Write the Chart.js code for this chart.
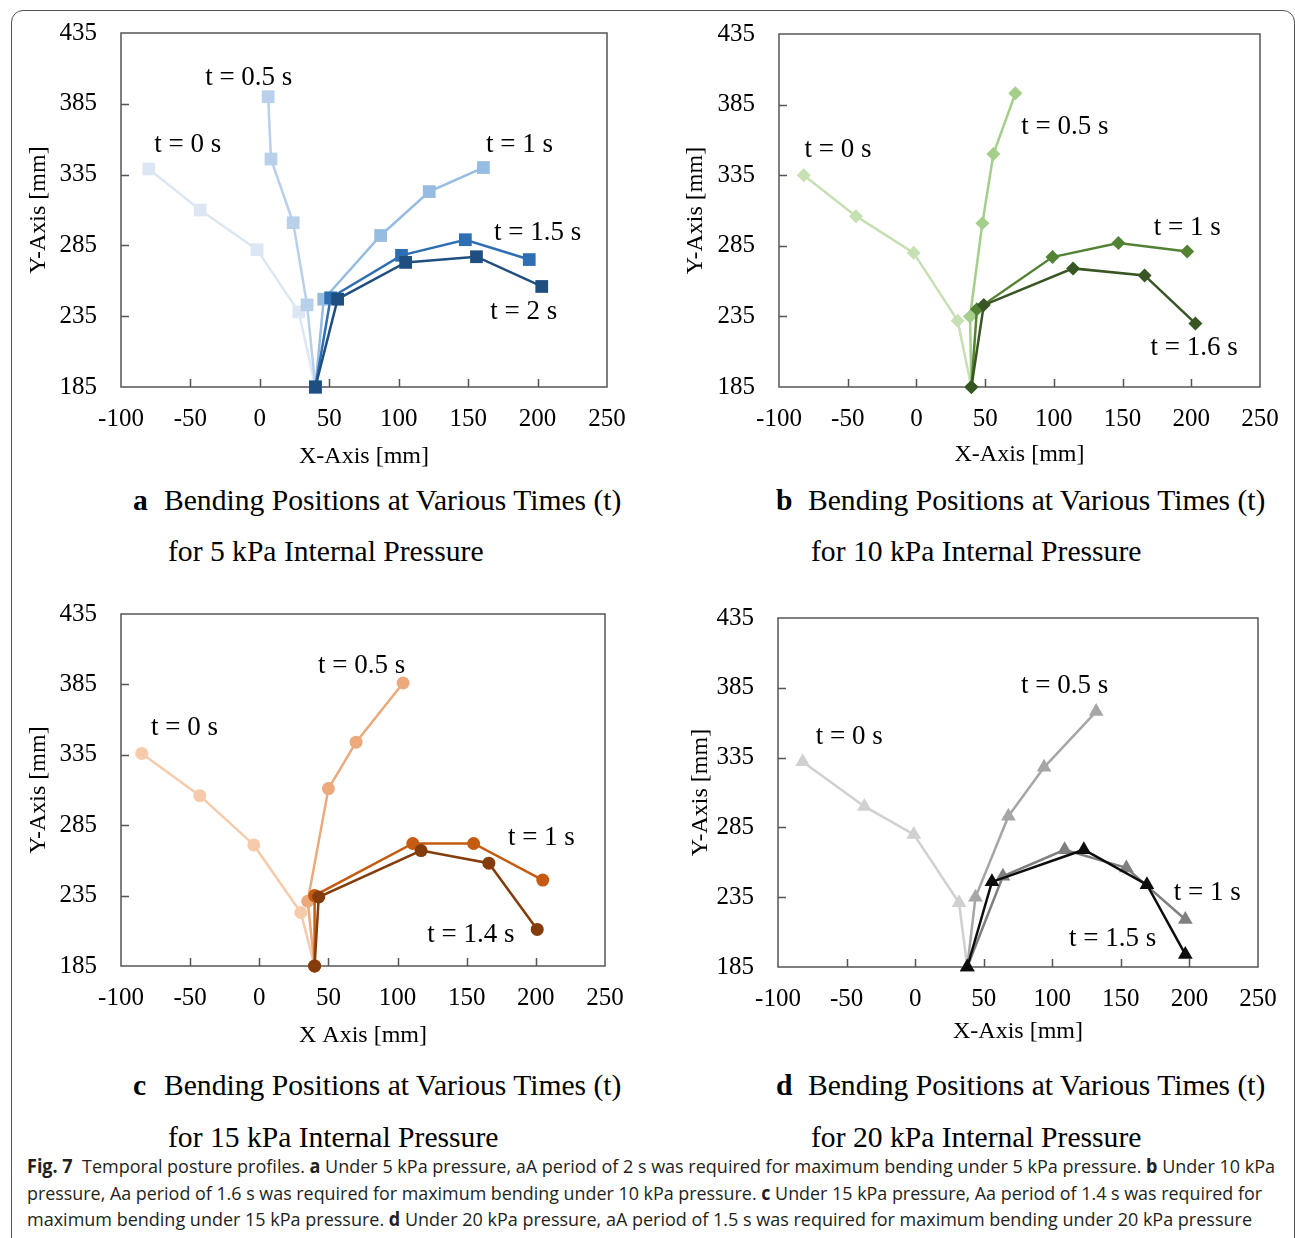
<!DOCTYPE html>
<html>
<head>
<meta charset="utf-8">
<script src="https://cdn.jsdelivr.net/npm/chart.js@4.4.1/dist/chart.umd.min.js"></script>
<style>
    html, body { margin: 0; padding: 0; background: #fff; }
    body { width: 1295px; height: 1238px; position: relative; overflow: hidden; font-family: "Liberation Serif", "Times New Roman", serif; color: #000; }
    .frame { position: absolute; left: 11px; top: 10px; width: 1284px; height: 1250px; border: 1.5px solid #555; border-radius: 12px; box-sizing: border-box; }
    .panel { position: absolute; width: 640px; height: 480px; }
    .sub { position: absolute; font-size: 29.6px; line-height: 34px; white-space: nowrap; }
    .sub.tag { font-weight: bold; }
    .cap { position: absolute; left: 27px; font-family: "Open Sans", sans-serif; font-size: 19px; line-height: 26px; color: #231f20; white-space: nowrap; transform-origin: 0 50%; }
</style>
</head>
<body>
<div class="frame"></div>

<div class="panel" style="left:0;top:0"><canvas id="chartA" width="640" height="480"></canvas></div>
<div class="panel" style="left:655px;top:0"><canvas id="chartB" width="640" height="480"></canvas></div>
<div class="panel" style="left:0;top:580px"><canvas id="chartC" width="640" height="480"></canvas></div>
<div class="panel" style="left:655px;top:580px"><canvas id="chartD" width="640" height="480"></canvas></div>

<div class="sub tag" style="left:133px;top:483px">a</div>
<div class="sub" style="left:164px;top:483px">Bending Positions at Various Times (t)</div>
<div class="sub" style="left:168px;top:534px">for 5 kPa Internal Pressure</div>

<div class="sub tag" style="left:776px;top:483px">b</div>
<div class="sub" style="left:808px;top:483px">Bending Positions at Various Times (t)</div>
<div class="sub" style="left:811px;top:534px">for 10 kPa Internal Pressure</div>

<div class="sub tag" style="left:133px;top:1068px">c</div>
<div class="sub" style="left:164px;top:1068px">Bending Positions at Various Times (t)</div>
<div class="sub" style="left:168px;top:1120px">for 15 kPa Internal Pressure</div>

<div class="sub tag" style="left:776px;top:1068px">d</div>
<div class="sub" style="left:808px;top:1068px">Bending Positions at Various Times (t)</div>
<div class="sub" style="left:811px;top:1120px">for 20 kPa Internal Pressure</div>

<div class="cap" data-w="1248" style="top:1153px"><b>Fig. 7</b>&nbsp; Temporal posture profiles. <b>a</b> Under 5 kPa pressure, aA period of 2 s was required for maximum bending under 5 kPa pressure. <b>b</b> Under 10 kPa</div>
<div class="cap" data-w="1235" style="top:1180px">pressure, Aa period of 1.6 s was required for maximum bending under 10 kPa pressure. <b>c</b> Under 15 kPa pressure, Aa period of 1.4 s was required for</div>
<div class="cap" data-w="1225" style="top:1206px">maximum bending under 15 kPa pressure. <b>d</b> Under 20 kPa pressure, aA period of 1.5 s was required for maximum bending under 20 kPa pressure</div>

<script>
    // ---- data (mm), every line starts at the base point ----

    // a: 5 kPa
    var aNames = ['t = 0 s', 't = 0.5 s', 't = 1 s', 't = 1.5 s', 't = 2 s'];
    var aX = [
        [40, 28, -2, -43, -80],
        [40, 34, 24, 8, 6],
        [40, 46, 87, 122, 161],
        [40, 51, 102, 148, 194],
        [40, 56, 105, 156, 203]
    ];
    var aY = [
        [185, 238, 282, 310, 339],
        [185, 243, 301, 346, 390],
        [185, 247, 292, 323, 340],
        [185, 248, 278, 289, 275],
        [185, 247, 273, 277, 256]
    ];
    var aTagX = [-52, -8, 187, 200, 190];
    var aTagY = [356, 403, 356, 294, 238];

    // b: 10 kPa
    var bNames = ['t = 0 s', 't = 0.5 s', 't = 1 s', 't = 1.6 s'];
    var bX = [
        [40, 30, -2, -44, -82],
        [40, 39, 48, 56, 72],
        [40, 44, 99, 147, 197],
        [40, 49, 114, 166, 203]
    ];
    var bY = [
        [185, 232, 280, 306, 335],
        [185, 235, 301, 350, 393],
        [185, 240, 277, 287, 281],
        [185, 243, 269, 264, 230]
    ];
    var bTagX = [-57, 108, 197, 202];
    var bTagY = [353, 369, 298, 213];

    // c: 15 kPa
    var cNames = ['t = 0 s', 't = 0.5 s', 't = 1 s', 't = 1.4 s'];
    var cX = [
        [40, 30, -4, -43, -85],
        [40, 35, 50, 70, 104],
        [40, 40, 111, 155, 205],
        [40, 43, 117, 166, 201]
    ];
    var cY = [
        [185, 223, 271, 306, 336],
        [185, 231, 311, 344, 386],
        [185, 235, 272, 272, 246],
        [185, 234, 267, 258, 211]
    ];
    var cTagX = [-54, 74, 204, 153];
    var cTagY = [354, 398, 276, 207];

    // d: 20 kPa
    var dNames = ['t = 0 s', 't = 0.5 s', 't = 1 s', 't = 1.5 s'];
    var dX = [
        [38, 32, -1, -37, -82],
        [38, 44, 68, 94, 132],
        [38, 64, 109, 154, 197],
        [38, 56, 123, 169, 197]
    ];
    var dY = [
        [185, 231, 280, 300, 332],
        [185, 235, 293, 328, 368],
        [185, 250, 269, 256, 219],
        [185, 246, 269, 244, 194]
    ];
    var dTagX = [-48, 109, 213, 144];
    var dTagY = [350, 386, 238, 205];

    var SERIF = '"Liberation Serif", "Times New Roman", serif';

    // 枠線と内向きの目盛り
    var frameTicks = {
        id: 'frameTicks',
        beforeDatasetsDraw: function(chart) {
            var ctx = chart.ctx;
            var area = chart.chartArea;
            var xs = chart.scales.x, ys = chart.scales.y;
            ctx.save();
            ctx.strokeStyle = '#555';
            ctx.lineWidth = 1.5;
            ctx.strokeRect(area.left, area.top, area.right - area.left, area.bottom - area.top);
            ctx.beginPath();
            xs.ticks.forEach(function(t) {
                if (t.value <= xs.min || t.value >= xs.max) return;
                var px = Math.round(xs.getPixelForValue(t.value)) + 0.5;
                ctx.moveTo(px, area.bottom);
                ctx.lineTo(px, area.bottom - 8);
            });
            ys.ticks.forEach(function(t) {
                if (t.value <= ys.min || t.value >= ys.max) return;
                var py = Math.round(ys.getPixelForValue(t.value)) + 0.5;
                ctx.moveTo(area.left, py);
                ctx.lineTo(area.left + 8, py);
            });
            ctx.stroke();
            ctx.restore();
        }
    };

    // 系列ラベル
    var seriesTags = {
        id: 'seriesTags',
        afterDatasetsDraw: function(chart, args, opts) {
            var ctx = chart.ctx;
            ctx.save();
            ctx.font = '27px ' + SERIF;
            ctx.fillStyle = '#000';
            ctx.textAlign = 'center';
            ctx.textBaseline = 'middle';
            opts.names.forEach(function(name, i) {
                ctx.fillText(name,
                    chart.scales.x.getPixelForValue(opts.x[i]),
                    chart.scales.y.getPixelForValue(opts.y[i]));
            });
            ctx.restore();
        }
    };

    function makePanel(id, p) {
        var datasets = [];
        // 後の時刻ほど手前に描く
        for (var i = p.names.length - 1; i >= 0; i--) {
            var pts = p.xs[i].map(function(x, k) { return { x: x, y: p.ys[i][k] }; });
            datasets.push({
                label: p.names[i],
                data: pts,
                showLine: true,
                borderColor: p.colors[i],
                backgroundColor: p.colors[i],
                borderWidth: 2.5,
                pointStyle: p.marker,
                pointRadius: p.radius,
                pointBorderWidth: 0,
                pointBackgroundColor: p.colors[i],
                clip: false
            });
        }

        return new Chart(document.getElementById(id), {
            type: 'scatter',
            data: { datasets: datasets },
            plugins: [frameTicks, seriesTags],
            options: {
                responsive: false,
                animation: false,
                layout: { padding: { top: p.padTop, right: p.padRight, left: 0, bottom: 0 } },
                plugins: {
                    legend: { display: false },
                    tooltip: { enabled: false },
                    seriesTags: { names: p.names, x: p.tagX, y: p.tagY }
                },
                scales: {
                    x: {
                        type: 'linear',
                        min: -100,
                        max: 250,
                        afterFit: function(s) {
                            s.height = p.xHeight;
                            s.paddingLeft = 0;
                            s.paddingRight = 0;
                        },
                        grid: { display: false, drawTicks: false },
                        border: { display: false },
                        ticks: { stepSize: 50, padding: 17, color: '#000', font: { family: SERIF, size: 25 } },
                        title: {
                            display: true,
                            text: p.xTitle,
                            color: '#000',
                            font: { family: SERIF, size: 24 },
                            padding: { top: 0, bottom: p.xTitlePad }
                        }
                    },
                    y: {
                        type: 'linear',
                        min: 185,
                        max: 435,
                        afterFit: function(s) {
                            s.width = p.yWidth;
                            s.paddingTop = 0;
                            s.paddingBottom = 0;
                        },
                        grid: { display: false, drawTicks: false },
                        border: { display: false },
                        ticks: { stepSize: 50, padding: 24, color: '#000', font: { family: SERIF, size: 25 } },
                        title: {
                            display: true,
                            text: 'Y-Axis [mm]',
                            color: '#000',
                            font: { family: SERIF, size: 24 },
                            padding: { top: p.yTitlePad, bottom: 0 }
                        }
                    }
                }
            }
        });
    }

    makePanel('chartA', {
        names: aNames, xs: aX, ys: aY, tagX: aTagX, tagY: aTagY,
        colors: ['#dce7f3', '#b8d0ea', '#97bce2', '#2e6fb3', '#1f4e80'],
        marker: 'rect', radius: 9,
        xTitle: 'X-Axis [mm]',
        padTop: 33, padRight: 33, yWidth: 121, xHeight: 93, yTitlePad: 24, xTitlePad: 9
    });

    makePanel('chartB', {
        names: bNames, xs: bX, ys: bY, tagX: bTagX, tagY: bTagY,
        colors: ['#c6e0b4', '#a3cf8a', '#548235', '#375623'],
        marker: 'rectRot', radius: 7,
        xTitle: 'X-Axis [mm]',
        padTop: 34, padRight: 35, yWidth: 124, xHeight: 93, yTitlePad: 26, xTitlePad: 11
    });

    makePanel('chartC', {
        names: cNames, xs: cX, ys: cY, tagX: cTagX, tagY: cTagY,
        colors: ['#f6cbab', '#eca97b', '#c55a11', '#843c0c'],
        marker: 'circle', radius: 6.5,
        xTitle: 'X Axis [mm]',
        padTop: 34, padRight: 35, yWidth: 121, xHeight: 94, yTitlePad: 24, xTitlePad: 10
    });

    makePanel('chartD', {
        names: dNames, xs: dX, ys: dY, tagX: dTagX, tagY: dTagY,
        colors: ['#d0d0d0', '#a6a6a6', '#7f7f7f', '#0d0d0d'],
        marker: 'triangle', radius: 8.5,
        xTitle: 'X-Axis [mm]',
        padTop: 38, padRight: 37, yWidth: 123, xHeight: 93, yTitlePad: 31, xTitlePad: 14
    });

    // キャプションを元の行幅に合わせる
    document.querySelectorAll('.cap').forEach(function(el) {
        var w = el.getBoundingClientRect().width;
        var target = parseFloat(el.getAttribute('data-w'));
        el.style.transform = 'scaleX(' + (target / w) + ')';
    });
</script>
</body>
</html>
